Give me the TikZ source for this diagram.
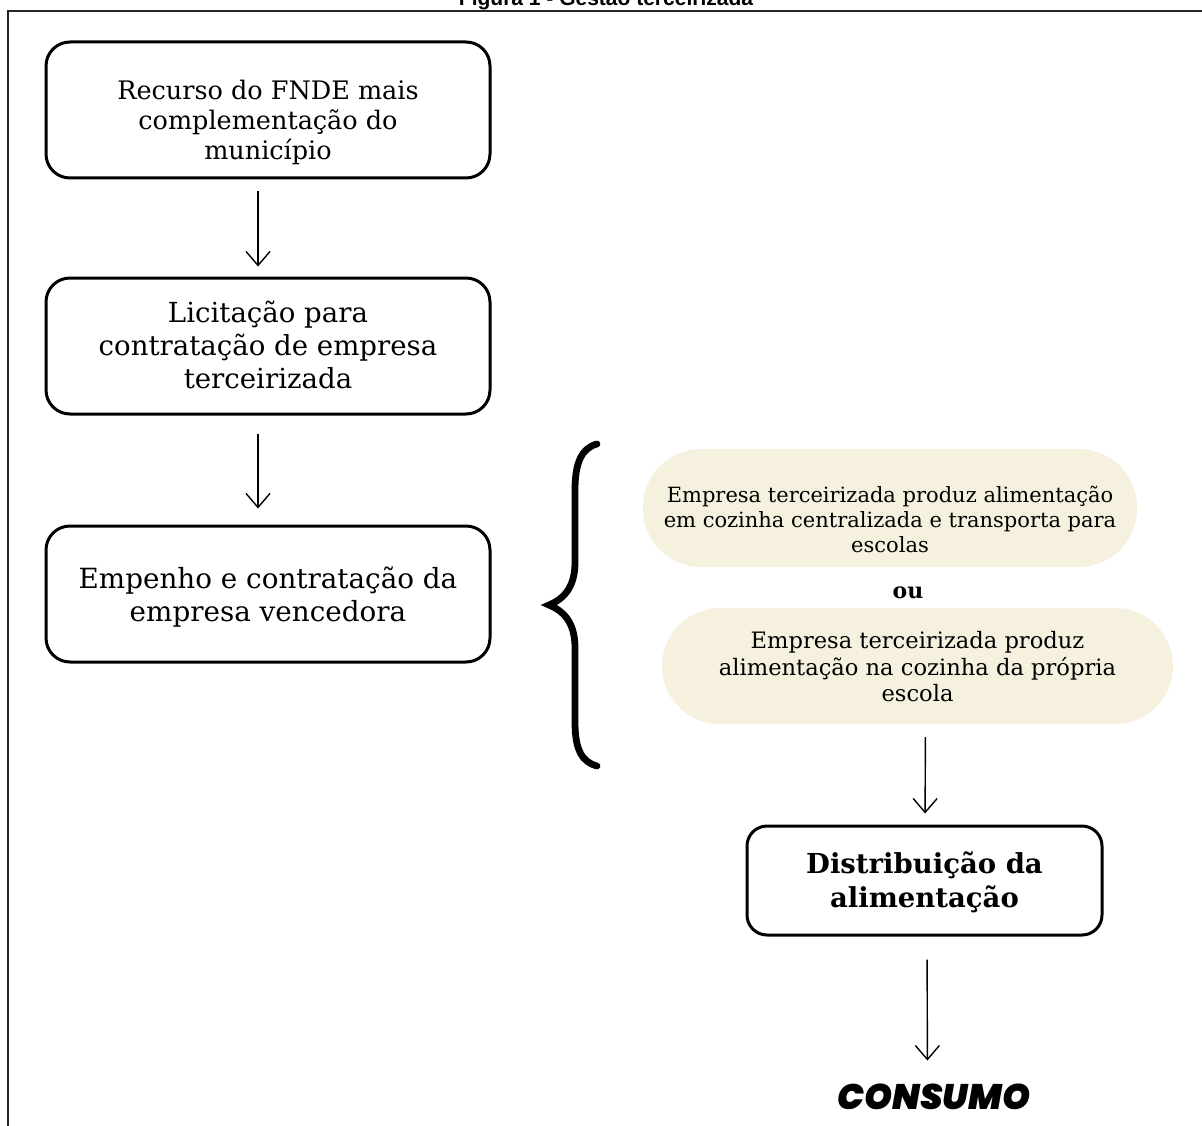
\documentclass[tikz,border=0pt]{standalone}
\usepackage{fontspec}
\setmainfont{DejaVu Serif}
\newfontfamily\titlefont{Liberation Sans}
\newfontfamily\consfont{Poppins Black Italic}
\usetikzlibrary{arrows.meta}
\definecolor{cream}{HTML}{F5F1DE}
\tikzset{
  box/.style={draw, line width=3pt, rounded corners=24pt, fill=white, minimum width=444pt, minimum height=136pt, inner sep=0pt},
  pill/.style={fill=cream, rounded corners=58pt, inner sep=0pt},
  txt/.style={align=center, inner sep=0pt},
  flow/.style={line width=1.4pt, -{Straight Barb[length=14pt,width=24pt,line width=1.4pt]}},
}
\begin{document}
\begin{tikzpicture}[x=1pt,y=-1pt]
\clip (0,0) rectangle (1202,1126);
\fill[white] (0,0) rectangle (1202,1126);
% frame
\draw[line width=2.6pt, black!85] (8,1130) -- (8,11) -- (1210,11);
% title (cut at the top)
\node[anchor=base, font={\titlefont\bfseries\fontsize{21}{25}\selectfont}] (title) at (606,6) {Figura 1 - Gestão terceirizada};

% left column
\node[box] (b1) at (268,110) {};
\node[txt, font={\fontsize{25.5}{30}\selectfont}] (b1t) at ([yshift=-12pt]b1.center) {Recurso do FNDE mais\\complementação do\\município};
\node[box] (b2) at (268,346) {};
\node[txt, font={\fontsize{27.6}{33}\selectfont}] (b2t) at ([yshift=1pt]b2.center) {Licitação para\\contratação de empresa\\terceirizada};
\node[box] (b3) at (268,594) {};
\node[txt, font={\fontsize{27.8}{33}\selectfont}] (b3t) at ([yshift=-3pt]b3.center) {Empenho e contratação da\\empresa vencedora};

\draw[flow, shorten <=12pt, shorten >=10pt] ([xshift=-10pt]b1.south) -- ([xshift=-10pt]b2.north);
\draw[flow, shorten <=18pt, shorten >=16pt] ([xshift=-10pt]b2.south) -- ([xshift=-10pt]b3.north);

% brace
\draw[line width=6.8pt, line cap=round] (597,444) .. controls (582,448) and (575,462) .. (575,490) -- (575,562) .. controls (575,585) and (566,598) .. (549,605) .. controls (566,612) and (575,625) .. (575,648) -- (575,722) .. controls (575,750) and (582,762) .. (597,766);

% options
\node[pill, minimum width=494pt, minimum height=118pt] (p1) at (890,508) {};
\node[txt, font={\fontsize{21}{25}\selectfont}] (p1t) at ([yshift=-11pt]p1.center) {Empresa terceirizada produz alimentação\\em cozinha centralizada e transporta para\\escolas};
\node[font={\bfseries\fontsize{22}{26}\selectfont}] (ou) at (908,593) {ou};
\node[pill, minimum width=511pt, minimum height=116pt] (p2) at (917.5,666) {};
\node[txt, font={\fontsize{22.6}{26.5}\selectfont}] (p2t) at ([yshift=-1pt]p2.center) {Empresa terceirizada produz\\alimentação na cozinha da própria\\escola};

\node[box, minimum width=355pt, minimum height=109pt, rounded corners=20pt] (b4) at (924.5,880.5) {};
\node[txt, font={\bfseries\fontsize{27.5}{34}\selectfont}] (b4t) at ([yshift=-2pt]b4.center) {Distribuição da\\alimentação};
\node[font={\consfont\fontsize{35.5}{40}\selectfont}] (cons) at (934,1097) {CONSUMO};

\draw[flow, shorten <=13pt, shorten >=11pt] ([xshift=8pt]p2.south) -- ([xshift=0.5pt]b4.north);
\draw[flow, shorten <=23pt, shorten >=20pt] ([xshift=2.5pt]b4.south) -- ([xshift=-6.5pt]cons.north);
\end{tikzpicture}
\end{document}
